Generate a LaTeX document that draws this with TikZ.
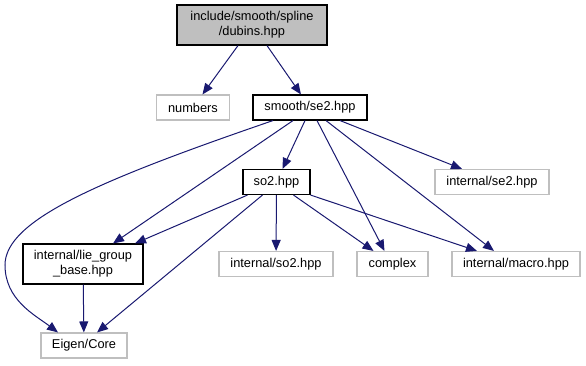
\documentclass[tikz,border=0pt]{standalone}
\usepackage{fontspec}
\setmainfont{Liberation Sans}
\usepackage{tikz}
\usetikzlibrary{arrows.meta}
\definecolor{edgeBlue}{HTML}{191970}
\definecolor{boxGray}{HTML}{BFBFBF}

\begin{document}
\begin{tikzpicture}[x=1pt, y=-1pt,
        every node/.style={font=\fontsize{12.8}{15}\selectfont, align=center, inner sep=0pt, minimum height=25pt},
        file/.style={draw=black, fill=white, line width=1.1pt},
        sysfile/.style={draw=boxGray, fill=white, line width=1.1pt},
        dep/.style={draw=edgeBlue, line width=1pt, -{Triangle[length=11pt, width=9pt]}}]
        \useasboundingbox (0,0) rectangle (586,365);

        \node[file, fill=boxGray, minimum width=150pt, minimum height=40pt] (dubins) at (252, 25)
            {include/smooth/spline\\/dubins.hpp};
        \node[sysfile, minimum width=73pt] (numbers) at (193, 107.5) {numbers};
        \node[file, minimum width=114pt] (se2) at (310, 107.5) {smooth/se2.hpp};
        \node[file, minimum width=67pt] (so2) at (276.5, 182) {so2.hpp};
        \node[sysfile, minimum width=114pt] (intse2) at (492, 182) {internal/se2.hpp};
        \node[file, minimum width=120pt, minimum height=40pt] (liebase) at (83, 264)
            {internal/lie\_group\\\_base.hpp};
        \node[sysfile, minimum width=114pt] (intso2) at (276, 264) {internal/so2.hpp};
        \node[sysfile, minimum width=71pt] (complex) at (392.5, 264) {complex};
        \node[sysfile, minimum width=128pt] (macro) at (516, 264) {internal/macro.hpp};
        \node[sysfile, minimum width=86pt] (eigen) at (84, 345.5) {Eigen/Core};

        % includes of dubins.hpp
        \draw[dep] ([xshift=-14pt]dubins.south) -- (numbers);
        \draw[dep] ([xshift=15pt]dubins.south) -- (se2);

        % includes of se2.hpp
        \draw[dep] ([xshift=-37pt]se2.south) .. controls (100, 180) and (5, 220) .. (5, 265)
            .. controls (5, 300) and (35, 315) .. ([xshift=-26pt]eigen.north);
        \draw[dep] ([xshift=-17pt]se2.south) -- ([xshift=30pt]liebase.north);
        \draw[dep] ([xshift=-5pt]se2.south) -- ([xshift=6pt]so2.north);
        \draw[dep] ([xshift=7pt]se2.south) -- ([xshift=-8pt]complex.north);
        \draw[dep] ([xshift=16pt]se2.south) -- ([xshift=-22pt]macro.north);
        \draw[dep] ([xshift=30pt]se2.south) -- ([xshift=-30pt]intse2.north);

        % includes of so2.hpp
        \draw[dep] ([xshift=-29pt]so2.south) -- ([xshift=52pt]liebase.north);
        \draw[dep] ([xshift=-14pt]so2.south) -- ([xshift=13pt]eigen.north);
        \draw[dep] (so2) -- (intso2);
        \draw[dep] ([xshift=17pt]so2.south) -- ([xshift=-19pt]complex.north);
        \draw[dep] (so2.south east) -- ([xshift=-39pt]macro.north);

        \draw[dep] (liebase) -- (eigen);
    \end{tikzpicture}
\end{document}
